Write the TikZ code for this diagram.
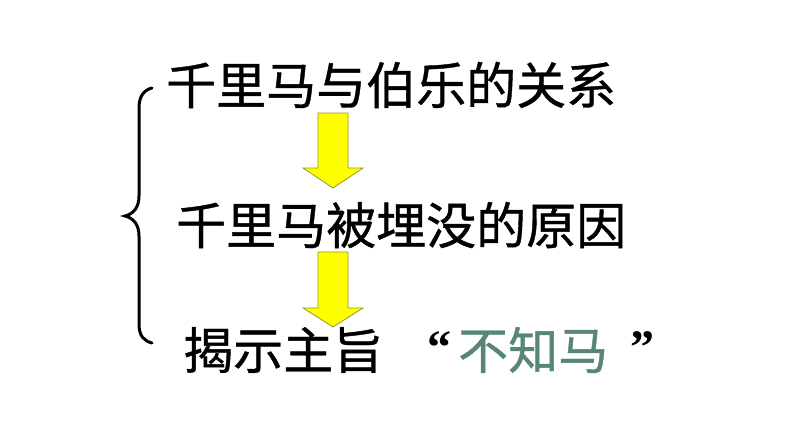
\documentclass[tikz,border=0pt]{standalone}
\usepackage{fontspec}
\newfontfamily\cjk[FakeBold=0.8]{Noto Sans CJK SC}
\newfontfamily\qfont{Liberation Serif}
\definecolor{sage}{RGB}{88,134,118}
\definecolor{arrowyellow}{RGB}{255,255,0}
\definecolor{arrowedge}{RGB}{150,150,40}
\begin{document}
\begin{tikzpicture}[x=1pt,y=-1pt,
  txt/.style={font=\cjk\fontsize{50}{50}\selectfont, inner sep=0pt, anchor=west},
  quote/.style={font=\qfont\bfseries\fontsize{48}{48}\selectfont, inner sep=0pt, anchor=west},
  bigarrow/.style={fill=arrowyellow, draw=arrowedge, line width=0.8pt, line join=miter},
  bracestyle/.style={line width=3pt, line cap=round}]
\useasboundingbox (0,0) rectangle (794,447);
\fill[white] (0,0) rectangle (794,447);
% brace
\draw[bracestyle] (152,88) .. controls (144,90) and (139,96) .. (139,108)
  -- (139,196) .. controls (139,208) and (133,214) .. (125,216)
  .. controls (133,218) and (139,224) .. (139,236)
  -- (139,324) .. controls (139,336) and (144,341) .. (152,343);
% texts
\node[txt] (l1) at (166,85) {千里马与伯乐的关系};
\node[txt] (l2) at (176,225) {千里马被埋没的原因};
\node[txt] (l3) at (183,350) {揭示主旨};
\node[quote] (q1) at (427,348) {“};
\node[txt, text=sage] (l4) at (458,350) {不知马};
\node[quote] (q2) at (630,348) {”};
% arrows
\coordinate (a1) at (333,113);
\coordinate (a2) at (333,252);
\draw[bigarrow] (318,113) -- (348,113) -- (348,168) -- (363,168) -- (333,188) -- (303,168) -- (318,168) -- cycle;
\draw[bigarrow] (318,252) -- (348,252) -- (348,308) -- (363,308) -- (333,327) -- (303,308) -- (318,308) -- cycle;
\end{tikzpicture}
\end{document}
